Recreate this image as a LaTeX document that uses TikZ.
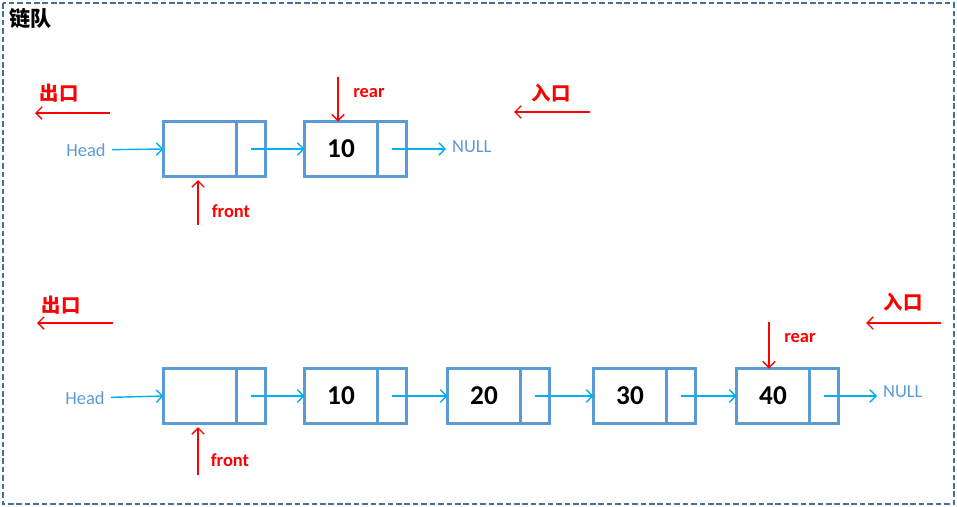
\documentclass[tikz,border=0pt]{standalone}
\usepackage{fontspec}
\setmainfont{Carlito}
\newfontfamily\cjk{Noto Sans CJK SC}
\usetikzlibrary{positioning,arrows.meta}
\definecolor{boxblue}{HTML}{5B9BD5}
\definecolor{linkcyan}{HTML}{00B0F0}
\definecolor{frameblue}{HTML}{41719C}
\definecolor{markred}{HTML}{FF0000}

\tikzset{
  datapart/.style={draw=boxblue, line width=1.6pt, minimum width=1.46cm, minimum height=1.10cm,
    inner sep=0pt, outer sep=0pt, font=\fontsize{15.5}{18}\selectfont\bfseries},
  ptrpart/.style={draw=boxblue, line width=1.6pt, minimum width=0.58cm, minimum height=1.10cm,
    inner sep=0pt, outer sep=0pt},
  link/.style={-{Straight Barb[length=3.5pt,width=7pt]}, linkcyan, line width=0.8pt},
  redarrow/.style={-{Straight Barb[length=3.5pt,width=7pt]}, markred, line width=0.8pt},
  bluelabel/.style={text=boxblue, font=\fontsize{10.5}{12}\selectfont},
  redlabel/.style={text=markred, font=\fontsize{10.5}{12}\selectfont\bfseries},
  gate/.style={text=markred, font=\fontsize{11}{13}\selectfont\cjk\bfseries}
}

\begin{document}
\begin{tikzpicture}[x=0.02cm, y=-0.02cm]
  \useasboundingbox (0,0) rectangle (957,507);
  % frame
  \draw[frameblue, line width=1.6pt, dash pattern=on 3.2pt off 1.6pt] (3,3) rectangle (954,504);
  \node[anchor=west, inner sep=0pt, font=\fontsize{12}{14}\selectfont\cjk\bfseries] (title) at (9,18) {链队};

  % top queue
  \node[gate] (outT) at (59,93) {出口};
  \coordinate (outTa) at (110,113);
  \coordinate (outTb) at (35,113);
  \draw[redarrow] (outTa) -- (outTb);
  \node[gate] (inT) at (551,93) {入口};
  \coordinate (inTa) at (590,112);
  \coordinate (inTb) at (514,112);
  \draw[redarrow] (inTa) -- (inTb);

  \node[bluelabel] (headT) at (86,150) {Head};
  \node[datapart] (t1) at (200,149) {};
  \node[ptrpart, right=0pt of t1] (tp1) {};
  \node[datapart] (t2) at (341,149) {10};
  \node[ptrpart, right=0pt of t2] (tp2) {};
  \node[bluelabel, anchor=west] (nullT) at (446,147) {NULL};

  \draw[link] (headT) -- (t1.west);
  \draw[link] (tp1.center) -- (t2.west);
  \draw[link] (tp2.center) -- (tp2.center -| nullT.west);

  \coordinate (rearTa) at (338,77);
  \draw[redarrow] (rearTa) -- (rearTa |- t2.north);
  \node[redlabel] (rearT) at (369,93) {rear};
  \coordinate (frontTa) at (198,225);
  \draw[redarrow, shorten >=2pt] (frontTa) -- (frontTa |- t1.south);
  \node[redlabel] (frontT) at (231,211) {front};

  % bottom queue
  \node[gate] (outB) at (61,305) {出口};
  \coordinate (outBa) at (113,323);
  \coordinate (outBb) at (37,323);
  \draw[redarrow] (outBa) -- (outBb);
  \node[gate] (inB) at (903,302) {入口};
  \coordinate (inBa) at (941,323);
  \coordinate (inBb) at (866,323);
  \draw[redarrow] (inBa) -- (inBb);

  \node[bluelabel] (headB) at (85,398) {Head};
  \foreach \v/\x [count=\i] in {/200, 10/341, 20/484, 30/630, 40/773} {
    \node[datapart] (b\i) at (\x,396) {\v};
    \node[ptrpart, right=0pt of b\i] (bp\i) {};
  }
  \node[bluelabel, anchor=west] (nullB) at (877,392) {NULL};

  \draw[link] (headB) -- (b1.west);
  \foreach \i [evaluate=\i as \j using int(\i+1)] in {1,2,3,4}
    \draw[link] (bp\i.center) -- (b\j.west);
  \draw[link] (bp5.center) -- (bp5.center -| nullB.west);

  \coordinate (rearBa) at (769,322);
  \draw[redarrow] (rearBa) -- (rearBa |- b5.north);
  \node[redlabel] (rearB) at (800,338) {rear};
  \coordinate (frontBa) at (198,475);
  \draw[redarrow, shorten >=2pt] (frontBa) -- (frontBa |- b1.south);
  \node[redlabel] (frontB) at (230,460) {front};
\end{tikzpicture}
\end{document}
